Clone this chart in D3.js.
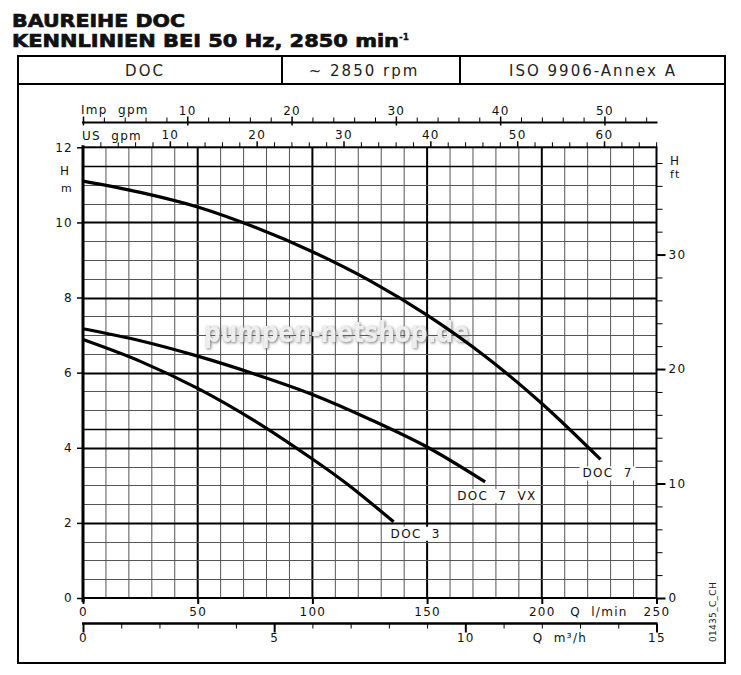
<!DOCTYPE html>
<html>
<head>
<meta charset="utf-8">
<script src="https://cdn.jsdelivr.net/npm/d3@7"></script>
<style>
body { margin: 0; background: #fff; }
svg text { font-family: "DejaVu Sans", Verdana, sans-serif; }
.c_tech { font-size: 12px; letter-spacing: 1.3px; fill: #111; }
.c_head { font-size: 15px; letter-spacing: 2px; fill: #222; }
.c_title { font-size: 18px; font-weight: bold; fill: #111; stroke: #111; stroke-width: 0.7; }
</style>
</head>
<body>
<div id="chart"></div>
<script>

// ----------------------------------------------------------- data

const HEADER_CELLS = ["DOC", "~ 2850 rpm", "ISO 9906-Annex A"];

const CURVE_NAMES = ["DOC  7", "DOC  7  VX", "DOC  3"];

const Q_DOC7 = [0, 25, 50, 75, 100, 125, 150, 175, 200, 225.6];
const H_DOC7 = [11.1, 10.8, 10.41, 9.87, 9.22, 8.45, 7.53, 6.45, 5.18, 3.69];

const Q_DOC7VX = [0, 25, 50, 75, 100, 125, 150, 175.3];
const H_DOC7VX = [7.17, 6.85, 6.44, 5.96, 5.42, 4.76, 4.02, 3.09];

const Q_DOC3 = [0, 25, 50, 75, 100, 115, 135.4];
const H_DOC3 = [6.88, 6.3, 5.58, 4.71, 3.7, 3.04, 2.03];

const TICKS_LMIN = [0, 50, 100, 150, 200, 250];
const TICKS_M3H = [0, 5, 10, 15];
const TICKS_USGPM = [10, 20, 30, 40, 50, 60];
const TICKS_IMPGPM = [10, 20, 30, 40, 50];
const TICKS_M = [0, 2, 4, 6, 8, 10, 12];
const TICKS_FT = [0, 10, 20, 30];

// ----------------------------------------------------------- layout

const SVG_W = 741;
const SVG_H = 675;

const PLOT_X0 = 83;
const PLOT_X1 = 656.5;
const PLOT_Y0 = 598;
const PLOT_Y1 = 147.3;

const Y_IMP = 122.5;
const Y_M3H = 623.5;

const COLOR_MINOR = "#555";
const COLOR_MAJOR = "#000";

// label offsets from curve end point
const LABEL_DX = [-18, -28, -3];
const LABEL_DY = [18, 18, 16];

// -----------------------------------------------------------

let svg = d3.select("#chart")
            .append("svg")
                .attr("width", SVG_W)
                .attr("height", SVG_H);

let x = d3.scaleLinear().domain([0, 250]).range([PLOT_X0, PLOT_X1]);
let y = d3.scaleLinear().domain([0, 12]).range([PLOT_Y0, PLOT_Y1]);

let xM3h = d3.scaleLinear().domain([0, 15]).range([PLOT_X0, PLOT_X1]);
let xUs = d3.scaleLinear().domain([0, 250 * 0.264172]).range([PLOT_X0, PLOT_X1]);
let xImp = d3.scaleLinear().domain([0, 250 / 4.54609]).range([PLOT_X0, PLOT_X1]);
let yFt = d3.scaleLinear().domain([0, 12 / 0.3048]).range([PLOT_Y0, PLOT_Y1]);

// ----------------------------------------------------------- title + frame

svg.append("text")
        .attr("class", "c_title")
        .attr("x", 12)
        .attr("y", 27)
        .attr("textLength", 173)
        .attr("lengthAdjust", "spacingAndGlyphs")
        .text("BAUREIHE DOC")

let title2 = svg.append("text")
        .attr("class", "c_title")
        .attr("x", 12)
        .attr("y", 47)
title2.append("tspan")
        .attr("textLength", 387)
        .attr("lengthAdjust", "spacingAndGlyphs")
        .text("KENNLINIEN BEI 50 Hz, 2850 min")
title2.append("tspan")
        .attr("dy", -7)
        .style("font-size", "9px")
        .style("stroke-width", 0.3)
        .text("-1")

svg.append("rect")
        .attr("x", 18)
        .attr("y", 56)
        .attr("width", 707)
        .attr("height", 607)
        .attr("fill", "none")
        .attr("stroke", "#000")
        .attr("stroke-width", 2)

svg.append("line")
        .attr("x1", 18).attr("x2", 725)
        .attr("y1", 84).attr("y2", 84)
        .attr("stroke", "#000").attr("stroke-width", 2)

const CELL_CENTERS = [145, 364, 593];

[282, 460].forEach(function (cx) {
    svg.append("line")
            .attr("x1", cx).attr("x2", cx)
            .attr("y1", 56).attr("y2", 84)
            .attr("stroke", "#000").attr("stroke-width", 2)
});

svg.selectAll(".c_cell")
        .data(HEADER_CELLS)
        .enter()
        .append("text")
            .attr("class", "c_head")
            .attr("x", function (d, i) { return CELL_CENTERS[i]; })
            .attr("y", 76)
            .attr("text-anchor", "middle")
            .attr("xml:space", "preserve")
            .text(function (d) { return d; })

// ----------------------------------------------------------- grid

let grid = svg.append("g");

d3.range(10, 250, 10).forEach(function (q) {
    let major = q % 50 === 0;
    grid.append("line")
            .attr("x1", x(q)).attr("x2", x(q))
            .attr("y1", PLOT_Y0).attr("y2", PLOT_Y1)
            .attr("stroke", major ? COLOR_MAJOR : COLOR_MINOR)
            .attr("stroke-width", major ? 2 : 1)
});

d3.range(0.5, 12, 0.5).forEach(function (h) {
    let major = h % 2 === 0;
    let semi = (h === 4.5 || h === 11.5);
    grid.append("line")
            .attr("x1", PLOT_X0).attr("x2", PLOT_X1)
            .attr("y1", Math.round(y(h)) + 0.5).attr("y2", Math.round(y(h)) + 0.5)
            .attr("stroke", major || semi ? COLOR_MAJOR : COLOR_MINOR)
            .attr("stroke-width", major ? 2 : (semi ? 1.5 : 1))
});

// plot border
grid.append("rect")
        .attr("x", PLOT_X0)
        .attr("y", PLOT_Y1)
        .attr("width", PLOT_X1 - PLOT_X0)
        .attr("height", PLOT_Y0 - PLOT_Y1)
        .attr("fill", "none")
        .attr("stroke", "#000")
        .attr("stroke-width", 2)

grid.append("line")
        .attr("x1", PLOT_X0).attr("x2", PLOT_X0)
        .attr("y1", PLOT_Y1 - 2).attr("y2", PLOT_Y0 + 4)
        .attr("stroke", "#000").attr("stroke-width", 3)

// ----------------------------------------------------------- watermark

let defs = svg.append("defs");
defs.append("filter").attr("id", "blur2")
        .append("feGaussianBlur").attr("stdDeviation", 1.6);
defs.append("filter").attr("id", "blur1")
        .append("feGaussianBlur").attr("stdDeviation", 0.6);

svg.append("text")
        .attr("x", 205).attr("y", 343)
        .attr("textLength", 265)
        .attr("lengthAdjust", "spacingAndGlyphs")
        .style("font-size", "28px")
        .style("font-weight", "bold")
        .style("fill", "#666")
        .style("fill-opacity", 0.9)
        .attr("filter", "url(#blur2)")
        .text("pumpen-netshop.de")

svg.append("text")
        .attr("x", 204).attr("y", 341.5)
        .attr("textLength", 265)
        .attr("lengthAdjust", "spacingAndGlyphs")
        .style("font-size", "28px")
        .style("font-weight", "bold")
        .style("fill", "#eee")
        .attr("filter", "url(#blur1)")
        .text("pumpen-netshop.de")

// ----------------------------------------------------------- curves

let curveData = [
    d3.zip(Q_DOC7, H_DOC7),
    d3.zip(Q_DOC7VX, H_DOC7VX),
    d3.zip(Q_DOC3, H_DOC3)
];

let line_pump = d3.line()
                    .x(function (d) { return x(d[0]); })
                    .y(function (d) { return y(d[1]); })
                    .curve(d3.curveCatmullRom.alpha(0.5))

svg.selectAll(".c_curve")
        .data(curveData)
        .enter()
        .append("path")
            .attr("d", line_pump)
            .attr("fill", "none")
            .attr("stroke", "#000")
            .attr("stroke-width", 3.2)

curveData.forEach(function (pts, i) {
    let last = pts[pts.length - 1];
    let g = svg.append("g");
    let t = g.append("text")
            .attr("class", "c_tech")
            .attr("xml:space", "preserve")
            .attr("x", x(last[0]) + LABEL_DX[i])
            .attr("y", y(last[1]) + LABEL_DY[i])
            .text(CURVE_NAMES[i]);
    let bb = t.node().getBBox();
    g.insert("rect", "text")
            .attr("x", bb.x - 3)
            .attr("y", bb.y)
            .attr("width", bb.width + 6)
            .attr("height", bb.height)
            .attr("fill", "#fff")
});

// ----------------------------------------------------------- axes

function styleAxis(g, width) {
    g.select(".domain").remove();
    g.selectAll(".tick line").attr("stroke", "#000").attr("stroke-width", width);
    g.selectAll(".tick text")
            .attr("class", "c_tech")
            .attr("font-family", null)
            .attr("font-size", null);
}

// left: H m
svg.append("g")
        .attr("transform", "translate(" + PLOT_X0 + ",0)")
        .call(d3.axisLeft(y).tickValues(TICKS_M).tickSize(6).tickPadding(4).tickFormat(d3.format("d")))
        .call(styleAxis, 1.5)

svg.append("text").attr("class", "c_tech").attr("x", 60).attr("y", 175).text("H")
svg.append("text").attr("class", "c_tech").attr("x", 61).attr("y", 192).style("font-size", "11px").text("m")

// right: H ft
svg.append("g")
        .attr("transform", "translate(" + PLOT_X1 + ",0)")
        .call(d3.axisRight(yFt).tickValues(d3.range(2, 40, 2).filter(function (v) { return v % 10 !== 0; })).tickSize(6).tickFormat(""))
        .call(styleAxis, 1)

svg.append("g")
        .attr("transform", "translate(" + PLOT_X1 + ",0)")
        .call(d3.axisRight(yFt).tickValues(TICKS_FT).tickSize(9).tickPadding(3).tickFormat(d3.format("d")))
        .call(styleAxis, 2)

svg.append("text").attr("class", "c_tech").attr("x", 670).attr("y", 165).text("H")
svg.append("text").attr("class", "c_tech").attr("x", 670).attr("y", 178).style("font-size", "11px").text("ft")

// bottom: Q l/min
svg.append("g")
        .attr("transform", "translate(0," + PLOT_Y0 + ")")
        .call(d3.axisBottom(x).tickValues(TICKS_LMIN).tickSize(6).tickPadding(3).tickFormat(d3.format("d")))
        .call(styleAxis, 2)

svg.append("text").attr("class", "c_tech").attr("xml:space", "preserve")
        .attr("x", 599).attr("y", 616).attr("text-anchor", "middle").text("Q  l/min")

// bottom: Q m3/h
svg.append("g").attr("transform", "translate(0," + Y_M3H + ")")
        .call(d3.axisBottom(xM3h).tickValues(d3.range(1, 15).filter(function (v) { return v % 5 !== 0; })).tickSize(5).tickFormat(""))
        .call(styleAxis, 1)
svg.append("g").attr("transform", "translate(0," + Y_M3H + ")")
        .call(d3.axisBottom(xM3h).tickValues(TICKS_M3H).tickSize(9).tickPadding(1).tickFormat(d3.format("d")))
        .call(styleAxis, 2)
svg.append("line")
        .attr("x1", PLOT_X0 - 1).attr("x2", PLOT_X1 + 1)
        .attr("y1", Y_M3H).attr("y2", Y_M3H)
        .attr("stroke", "#000").attr("stroke-width", 2.5)

svg.append("text").attr("class", "c_tech").attr("xml:space", "preserve")
        .attr("x", 560).attr("y", 642).attr("text-anchor", "middle").text("Q  m³/h")

// top: US gpm
svg.append("g")
        .attr("transform", "translate(0," + PLOT_Y1 + ")")
        .call(d3.axisTop(xUs).tickValues(d3.range(2, 67, 2).filter(function (v) { return v % 10 !== 0; })).tickSize(5).tickFormat(""))
        .call(styleAxis, 1)
svg.append("g")
        .attr("transform", "translate(0," + PLOT_Y1 + ")")
        .call(d3.axisTop(xUs).tickValues(TICKS_USGPM).tickSize(6).tickPadding(2).tickFormat(d3.format("d")))
        .call(styleAxis, 1.5)

svg.append("text").attr("class", "c_tech").attr("xml:space", "preserve")
        .attr("x", 82).attr("y", 140).text("US  gpm")

// top: Imp gpm
svg.append("g")
        .attr("transform", "translate(0," + Y_IMP + ")")
        .call(d3.axisTop(xImp).tickValues(d3.range(2, 55, 2).filter(function (v) { return v % 10 !== 0; })).tickSize(5).tickFormat(""))
        .call(styleAxis, 1)
let gImp = svg.append("g")
        .attr("transform", "translate(0," + Y_IMP + ")")
        .call(d3.axisTop(xImp).tickValues([0].concat(TICKS_IMPGPM)).tickSize(6).tickPadding(2).tickFormat(function (d) { return d === 0 ? "" : d; }))
        .call(styleAxis, 1.5)
gImp.selectAll(".tick line").attr("y2", -6).attr("y1", 3)
svg.append("line")
        .attr("x1", PLOT_X0 - 1).attr("x2", PLOT_X1 + 1)
        .attr("y1", Y_IMP).attr("y2", Y_IMP)
        .attr("stroke", "#000").attr("stroke-width", 2)

svg.append("text").attr("class", "c_tech").attr("xml:space", "preserve")
        .attr("x", 81).attr("y", 114).text("Imp  gpm")

// ----------------------------------------------------------- drawing number

svg.append("text")
        .attr("transform", "translate(716,642) rotate(-90)")
        .style("font-size", "9px")
        .style("letter-spacing", "0.3px")
        .style("fill", "#222")
        .text("01435_C_CH")

</script>
</body>
</html>
